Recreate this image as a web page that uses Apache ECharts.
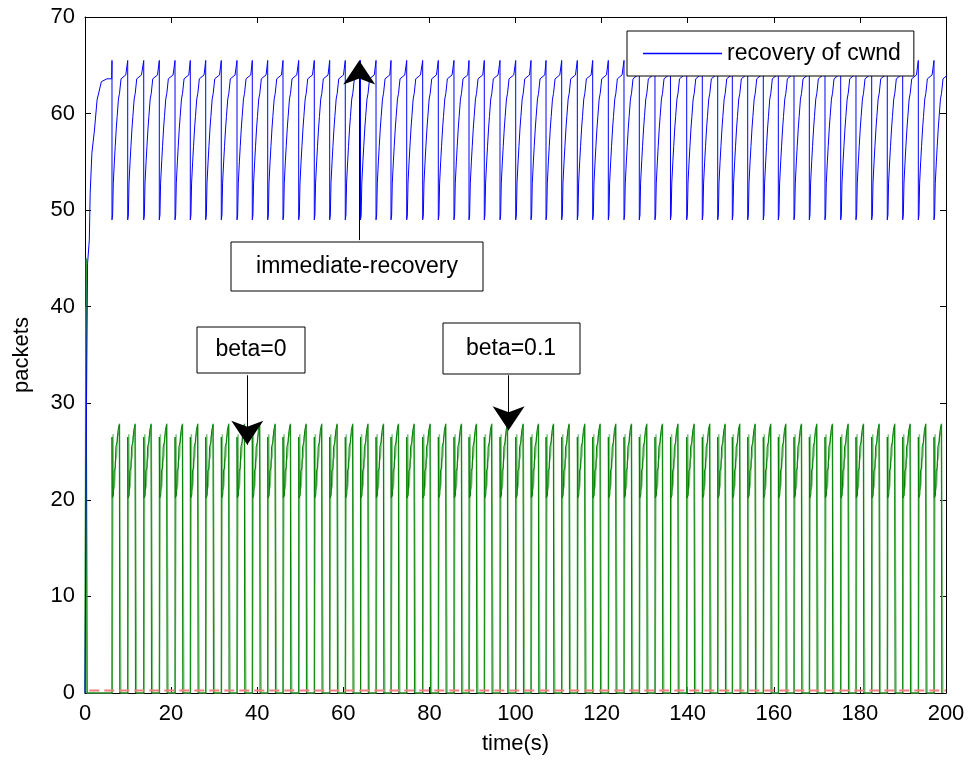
<!DOCTYPE html>
<html>
<head>
<meta charset="utf-8">
<script src="https://cdn.jsdelivr.net/npm/echarts@6/dist/echarts.min.js"></script>
<style>
  html, body { margin: 0; padding: 0; background: #fff; }
  #chart { width: 968px; height: 764px; }
</style>
</head>
<body>
<div id="chart"></div>
<script>
// ---- data ----
// times (s) of the loss events (blue drops / green rises)
const lossTimes = [6.27, 9.92, 13.64, 17.26, 20.91, 24.46, 28.04, 31.66, 35.31, 38.86,
  42.44, 45.99, 49.64, 53.26, 56.84, 60.46, 64.0, 67.6, 71.08, 74.73,
  78.44, 82.07, 85.71, 89.2, 92.75, 96.4, 100.05, 103.6, 107.09, 110.73,
  114.36, 117.93, 121.56, 125.2, 128.76, 132.4, 136.0, 139.77, 143.39, 146.97,
  150.36, 153.94, 157.56, 161.05, 164.69, 168.25, 171.89, 175.54, 179.09, 182.74,
  186.36, 189.94, 193.57, 197.21];

// blue: recovery of cwnd (immediate-recovery)
const blueStartTimes = [0, 0.35, 0.6, 1.0, 1.2, 1.6, 2.2, 2.8, 3.8, 5.1, 6.2];
const blueStartValues = [0, 30, 44.5, 46.9, 51.7, 55.9, 58.3, 61.4, 63.3, 63.6, 63.6];
const blueCycleOffsets = [0, 0, 0.15, 0.3, 0.55, 0.75, 1.0, 1.2, 1.5, 1.75, 2.1, 3.2, 3.45];
const blueCycleValues = [65.5, 49, 49.5, 52.8, 55, 56.6, 58.5, 59.7, 61.5, 62.1, 63.6, 64.0, 64.1];

// dark green: beta=0
const darkStartTimes = [0, 0.25, 0.5];
const darkStartValues = [0, 45, 0];
const darkCycleOffsets = [0, 0, 0.08, 0.35, 0.5, 0.75, 0.9, 1.2, 1.4, 1.7, 1.78, 1.8];
const darkCycleValues = [0, 26.5, 20.2, 20.5, 23, 23.3, 25.5, 26, 27.2, 27.8, 27.8, 0];

// light green: beta=0.1
const lightStartTimes = [0, 0.2, 0.45];
const lightStartValues = [0, 40, 0];
const lightCycleOffsets = [0.05, 0.25, 0.35, 0.6, 0.8, 1.05, 1.25, 1.55, 1.75, 1.95, 2.05];
const lightCycleValues = [0, 26.8, 21, 21.5, 24, 24.5, 26.5, 27, 27.9, 28, 0];

// red: near zero
const redTimes = [1, 200];
const redValues = [0.25, 0.25];

const xTicks = { min: 0, max: 200, step: 20 };
const yTicks = { min: 0, max: 70, step: 10 };

// ---- build series tables ----
function build(startT, startV, offs, vals) {
  const out = [];
  for (let i = 0; i < startT.length; i++) out.push([startT[i], startV[i]]);
  for (const t of lossTimes) {
    for (let j = 0; j < offs.length; j++) out.push([+(t + offs[j]).toFixed(3), vals[j]]);
  }
  return out;
}
const blueData = build(blueStartTimes, blueStartValues, blueCycleOffsets, blueCycleValues);
const darkData = build(darkStartTimes, darkStartValues, darkCycleOffsets, darkCycleValues);
const lightData = build(lightStartTimes, lightStartValues, lightCycleOffsets, lightCycleValues);
const redData = redTimes.map((t, i) => [t, redValues[i]]);

const FONT = 'Liberation Sans, Arial, sans-serif';
const chart = echarts.init(document.getElementById('chart'), null, { renderer: 'canvas' });

const axisCommon = {
  axisLine: { show: true, onZero: false, lineStyle: { color: '#000', width: 1 } },
  axisTick: { show: true, inside: true, length: 6, lineStyle: { color: '#000' } },
  splitLine: { show: false }
};

const arrowLine = (x, y0, y1) => [
  { coord: [x, y0], symbol: 'none' },
  { coord: [x, y1], symbol: 'arrow' }
];

const option = {
  animation: false,
  backgroundColor: '#fff',
  grid: { left: 85, right: 22, top: 17, bottom: 71, containLabel: false },
  legend: {
    data: ['recovery of cwnd'],
    left: 627, top: 31,
    padding: [11, 13, 11, 16],
    backgroundColor: '#fff',
    borderColor: '#000', borderWidth: 1,
    icon: 'rect', itemWidth: 79, itemHeight: 1.5,
    textStyle: { fontSize: 23, color: '#000', fontFamily: FONT }
  },
  xAxis: [
    Object.assign({}, axisCommon, {
      type: 'value', position: 'bottom', min: xTicks.min, max: xTicks.max, interval: xTicks.step,
      axisLabel: { color: '#000', fontSize: 22, margin: 10, fontFamily: FONT },
      name: 'time(s)', nameLocation: 'middle', nameGap: 40,
      nameTextStyle: { color: '#000', fontSize: 22, fontFamily: FONT }
    }),
    Object.assign({}, axisCommon, {
      type: 'value', position: 'top', min: xTicks.min, max: xTicks.max, interval: xTicks.step,
      axisLabel: { show: false }
    })
  ],
  yAxis: [
    Object.assign({}, axisCommon, {
      type: 'value', position: 'left', min: yTicks.min, max: yTicks.max, interval: yTicks.step,
      axisLabel: { color: '#000', fontSize: 22, margin: 10, fontFamily: FONT },
      name: 'packets', nameLocation: 'middle', nameGap: 52,
      nameTextStyle: { color: '#000', fontSize: 22, fontFamily: FONT }
    }),
    Object.assign({}, axisCommon, {
      type: 'value', position: 'right', min: yTicks.min, max: yTicks.max, interval: yTicks.step,
      axisLabel: { show: false }
    })
  ],
  series: [
    {
      name: 'recovery of cwnd', type: 'line', data: blueData, showSymbol: false, symbol: 'none',
      lineStyle: { color: '#0000ff', width: 1 }, itemStyle: { color: '#0000ff' }, z: 3,
      markLine: {
        silent: true, symbolSize: 24, animation: false,
        label: { show: false },
        lineStyle: { color: '#000', width: 1, type: 'solid' },
        data: [arrowLine(63.7, 46.9, 65.5)]
      }
    },
    {
      name: 'beta=0.1', type: 'line', data: lightData, showSymbol: false, symbol: 'none',
      lineStyle: { color: '#80c080', width: 1.5 }, z: 2
    },
    {
      name: 'beta=0', type: 'line', data: darkData, showSymbol: false, symbol: 'none',
      lineStyle: { color: '#008000', width: 1 }, z: 2,
      markLine: {
        silent: true, symbolSize: 24, animation: false,
        label: { show: false },
        lineStyle: { color: '#000', width: 1, type: 'solid' },
        data: [arrowLine(37.7, 32.9, 25.7), arrowLine(98.4, 32.9, 27.2)]
      }
    },
    {
      name: 'red', type: 'line', data: redData, showSymbol: false, symbol: 'none',
      lineStyle: { color: '#f08080', width: 2, type: [10, 5] }, z: 2
    }
  ],
  graphic: [
    { type: 'rect', z: 100, shape: { x: 231, y: 242, width: 252, height: 49 },
      style: { fill: '#fff', stroke: '#000', lineWidth: 1 } },
    { type: 'text', z: 101, style: { text: 'immediate-recovery', x: 357, y: 267, align: 'center', verticalAlign: 'middle',
      textAlign: 'center', textVerticalAlign: 'middle', font: '23px ' + FONT, fill: '#000' } },
    { type: 'rect', z: 100, shape: { x: 197, y: 327, width: 108, height: 46 },
      style: { fill: '#fff', stroke: '#000', lineWidth: 1 } },
    { type: 'text', z: 101, style: { text: 'beta=0', x: 251, y: 350, align: 'center', verticalAlign: 'middle',
      textAlign: 'center', textVerticalAlign: 'middle', font: '23px ' + FONT, fill: '#000' } },
    { type: 'rect', z: 100, shape: { x: 443, y: 323, width: 137, height: 51 },
      style: { fill: '#fff', stroke: '#000', lineWidth: 1 } },
    { type: 'text', z: 101, style: { text: 'beta=0.1', x: 511, y: 349, align: 'center', verticalAlign: 'middle',
      textAlign: 'center', textVerticalAlign: 'middle', font: '23px ' + FONT, fill: '#000' } }
  ]
};
chart.setOption(option);
</script>
</body>
</html>
